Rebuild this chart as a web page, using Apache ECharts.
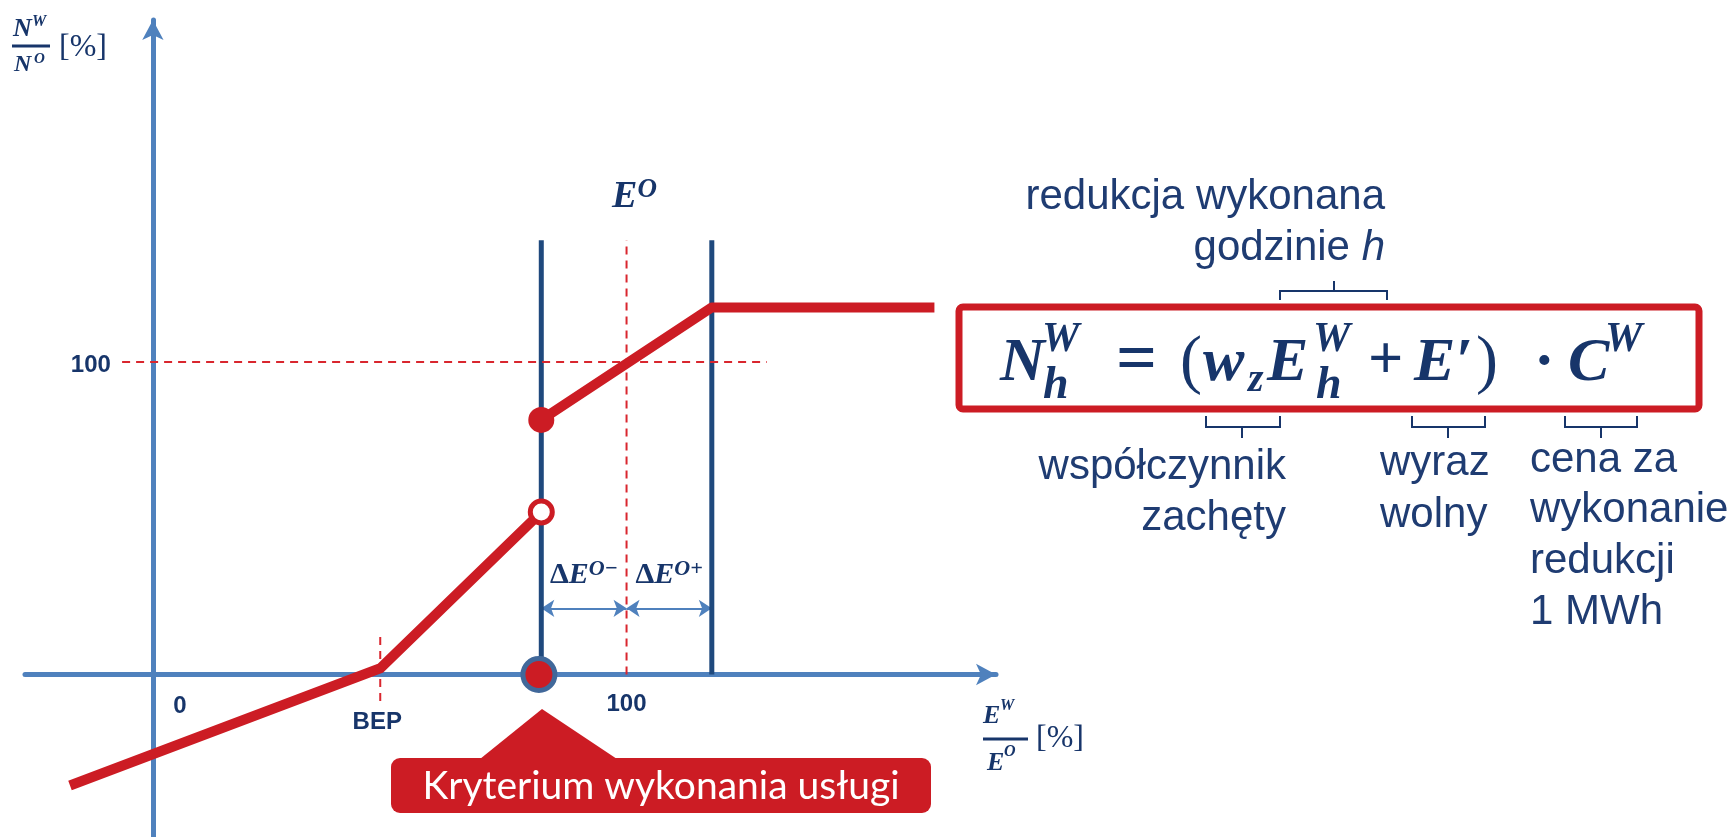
<!DOCTYPE html>
<html>
<head>
<meta charset="utf-8">
<script src="https://cdn.jsdelivr.net/npm/echarts@6/dist/echarts.min.js"></script>
<style>
  html, body { margin: 0; padding: 0; background: #fff; }
  #chart { width: 1731px; height: 837px; }
</style>
</head>
<body>
<div id="chart"></div>
<script>
// values in % of E^O (x) and % of N^O (y)
const xTickValues = [0, 48, 100];
const xTickNames = ['0', 'BEP', '100'];
const yTickValues = [100];
const yTickNames = ['100'];

const lowerCurve = [[-17.5, -35.5], [48, 2], [82, 52]];
const upperCurve = [[82, 81.5], [118, 117.5], [165, 117.5]];
const bandEdges = [82, 118];
const bandTop = 139;
const bepGuide = [[48, 12], [48, -8.5]];
const refHLine = [[-6.5, 100], [129.6, 100]];
const refVLine = [[100, 0], [100, 139]];
const deltaArrowY = 21.2;
const criterionPoint = [81.5, 0];

const RED = '#CC1C24';
const NAVY = '#17356A';
const TXT = '#1F3C72';
const BLUE = '#4F81BD';

// label nudges (px) for the tick names
const xTickNudges = [[27, 32], [-3, 48], [0, 30]];
const yTickNudges = [[-62, 3]];

const chart = echarts.init(document.getElementById('chart'));

const serif = 'Liberation Serif';
const mathRich = {
    e: { fontFamily: serif, fontStyle: 'italic', fontWeight: 'bold', fontSize: 38, color: NAVY, lineHeight: 40, verticalAlign: 'bottom' },
    s: { fontFamily: serif, fontStyle: 'italic', fontWeight: 'bold', fontSize: 27, color: NAVY, lineHeight: 26, verticalAlign: 'top' },
    d: { fontFamily: serif, fontWeight: 'bold', fontSize: 30, color: NAVY, lineHeight: 32, verticalAlign: 'bottom' },
    de: { fontFamily: serif, fontStyle: 'italic', fontWeight: 'bold', fontSize: 30, color: NAVY, lineHeight: 32, verticalAlign: 'bottom' },
    ds: { fontFamily: serif, fontStyle: 'italic', fontWeight: 'bold', fontSize: 22, color: NAVY, lineHeight: 22, verticalAlign: 'top' }
};

function seg(data, color, width, type) {
    return {
        type: 'line', data: data, symbol: 'none', silent: true,
        lineStyle: { color: color, width: width, type: type || 'solid', join: 'round' }
    };
}

// formula pieces: text, x, y(middle), font
const fMain = 'italic bold 62px "Liberation Serif"';
const fSup = 'italic bold 42px "Liberation Serif"';
const fSub = 'italic bold 46px "Liberation Serif"';
const formula = [
    ['N', 1000, 364, fMain], ['W', 1042, 340, fSup], ['h', 1043, 386, fSub],
    ['=', 1116, 362, 'bold 72px "Liberation Serif"'], ['(', 1180, 364, '66px "Liberation Serif"'],
    ['w', 1203, 364, fMain], ['z', 1248, 381, 'italic bold 40px "Liberation Serif"'],
    ['E', 1267, 364, fMain], ['W', 1313, 340, fSup], ['h', 1316, 386, fSub],
    ['+', 1368, 362, 'bold 62px "Liberation Serif"'], ['E\u2032', 1414, 364, fMain],
    [')', 1476, 364, '66px "Liberation Serif"'],
    ['\u00B7', 1534, 364, 'bold 62px "Liberation Serif"'], ['C', 1568, 364, fMain], ['W', 1605, 340, fSup]
];

function txt(text, x, y, font, fill, align, rich) {
    return {
        type: 'text', x: x, y: y, silent: true, z: 20,
        style: { text: text, font: font, fill: fill, align: align || 'left', verticalAlign: 'middle', rich: rich }
    };
}

function brace(x1, x2, xm, yEdge, yBar, yTip) {
    return {
        type: 'polyline', silent: true,
        shape: { points: [[x1, yEdge], [x1, yBar], [xm, yBar], [xm, yTip], [xm, yBar], [x2, yBar], [x2, yEdge]] },
        style: { stroke: NAVY, lineWidth: 2, fill: null }
    };
}

const sans = '42px "Liberation Sans"';
const graphic = [
    // callout
    { type: 'polygon', silent: true, shape: { points: [[542, 709], [480, 759], [617, 759]] }, style: { fill: RED } },
    { type: 'rect', silent: true, shape: { x: 391, y: 758, width: 540, height: 55, r: 9 }, style: { fill: RED } },
    txt('Kryterium wykonania usługi', 661, 786, '39px Lato', '#fff', 'center'),
    // formula box
    { type: 'rect', silent: true, shape: { x: 959, y: 307, width: 740, height: 102, r: 4 }, style: { fill: '#fff', stroke: RED, lineWidth: 7 } },
    brace(1280, 1387, 1334, 300, 291, 281),
    brace(1206, 1280, 1242, 416, 427, 438),
    brace(1412, 1485, 1448, 416, 427, 438),
    brace(1565, 1637, 1601, 416, 427, 438),
    txt('redukcja wykonana', 1385, 197, sans, TXT, 'right'),
    txt('godzinie {i|h}', 1385, 248, sans, TXT, 'right', { i: { fontStyle: 'italic', fontSize: 42, fontFamily: 'Liberation Sans', fill: TXT } }),
    txt('współczynnik', 1286, 467, sans, TXT, 'right'),
    txt('zachęty', 1286, 518, sans, TXT, 'right'),
    txt('wyraz', 1380, 463, sans, TXT),
    txt('wolny', 1380, 515, sans, TXT),
    txt('cena za', 1530, 460, sans, TXT),
    txt('wykonanie', 1530, 510, sans, TXT),
    txt('redukcji', 1530, 561, sans, TXT),
    txt('1 MWh', 1530, 612, sans, TXT),
    // y axis title
    txt('N', 13, 29, 'italic bold 26px "Liberation Serif"', NAVY),
    txt('W', 32, 22, 'italic bold 16px "Liberation Serif"', NAVY),
    { type: 'line', silent: true, shape: { x1: 12, y1: 46, x2: 50, y2: 46 }, style: { stroke: NAVY, lineWidth: 3 } },
    txt('N', 14, 65, 'italic bold 24px "Liberation Serif"', NAVY),
    txt('O', 34, 59, 'italic bold 15px "Liberation Serif"', NAVY),
    txt('[%]', 59, 48, '32px "Liberation Serif"', NAVY),
    // x axis title
    txt('E', 983, 716, 'italic bold 26px "Liberation Serif"', NAVY),
    txt('W', 1000, 706, 'italic bold 16px "Liberation Serif"', NAVY),
    { type: 'line', silent: true, shape: { x1: 983, y1: 739, x2: 1028, y2: 739 }, style: { stroke: NAVY, lineWidth: 3 } },
    txt('E', 987, 763, 'italic bold 26px "Liberation Serif"', NAVY),
    txt('O', 1004, 752, 'italic bold 16px "Liberation Serif"', NAVY),
    txt('[%]', 1036, 739, '32px "Liberation Serif"', NAVY)
].concat(formula.map(p => txt(p[0], p[1], p[2], p[3], NAVY)));

const series = [];
bandEdges.forEach(x => series.push(seg([[x, 0], [x, bandTop]], '#1F497D', 5)));
series.push(seg(refVLine, '#D9262E', 2, [8, 6]));
series.push(seg(refHLine, '#D9262E', 2, [8, 6]));
series.push(seg(bepGuide, '#D9262E', 2, [8, 6]));
series.push({
    type: 'lines', coordinateSystem: 'cartesian2d', silent: true,
    symbol: ['arrow', 'arrow'], symbolSize: 13,
    lineStyle: { color: BLUE, width: 2, opacity: 1 },
    data: [
        { coords: [[bandEdges[0], deltaArrowY], [100, deltaArrowY]] },
        { coords: [[100, deltaArrowY], [bandEdges[1], deltaArrowY]] }
    ]
});
series.push(seg(lowerCurve, RED, 10));
series.push(seg(upperCurve, RED, 10));
series.push({
    type: 'scatter', silent: true, symbolSize: 26, z: 10,
    itemStyle: { color: RED, opacity: 1 },
    data: [upperCurve[0]]
});
series.push({
    type: 'scatter', silent: true, symbolSize: 22, z: 10,
    itemStyle: { color: '#fff', borderColor: RED, borderWidth: 5, opacity: 1 },
    data: [lowerCurve[lowerCurve.length - 1]]
});
series.push({
    type: 'scatter', silent: true, symbolSize: 32, z: 10,
    itemStyle: { color: RED, borderColor: '#41689A', borderWidth: 5, opacity: 1 },
    data: [criterionPoint]
});
// tick names
series.push({
    type: 'scatter', silent: true, symbolSize: 0, z: 10,
    itemStyle: { opacity: 1 },
    data: xTickValues.map((v, i) => ({
        value: [v, 0],
        label: { show: true, position: 'inside', offset: xTickNudges[i], formatter: xTickNames[i] }
    })).concat(yTickValues.map((v, i) => ({
        value: [0, v],
        label: { show: true, position: 'inside', offset: yTickNudges[i], formatter: yTickNames[i] }
    }))),
    label: { color: NAVY, fontFamily: 'Liberation Sans', fontWeight: 'bold', fontSize: 24 }
});
// E^O and delta labels
series.push({
    type: 'scatter', silent: true, symbolSize: 0, z: 10,
    itemStyle: { opacity: 1 },
    data: [
        { value: [100, 153], label: { show: true, offset: [8, 0], formatter: '{e|E}{s|O}' } },
        { value: [(bandEdges[0] + 100) / 2, 32], label: { show: true, formatter: '{d|\u0394}{de|E}{ds|O\u2212}' } },
        { value: [(bandEdges[1] + 100) / 2, 32], label: { show: true, formatter: '{d|\u0394}{de|E}{ds|O+}' } }
    ],
    label: { position: 'inside', rich: mathRich }
});

chart.setOption({
    animation: false,
    grid: { left: 25, top: 20, width: 971, height: 818 },
    xAxis: {
        type: 'value', min: -27, max: 178,
        axisLine: { onZero: true, symbol: ['none', 'arrow'], symbolSize: [16, 20], lineStyle: { color: BLUE, width: 5 } },
        axisTick: { show: false }, axisLabel: { show: false }, splitLine: { show: false }
    },
    yAxis: {
        type: 'value', min: -52, max: 209.5,
        axisLine: { onZero: true, symbol: ['none', 'arrow'], symbolSize: [16, 20], lineStyle: { color: BLUE, width: 5 } },
        axisTick: { show: false }, axisLabel: { show: false }, splitLine: { show: false }
    },
    series: series,
    graphic: graphic
});
</script>
</body>
</html>
